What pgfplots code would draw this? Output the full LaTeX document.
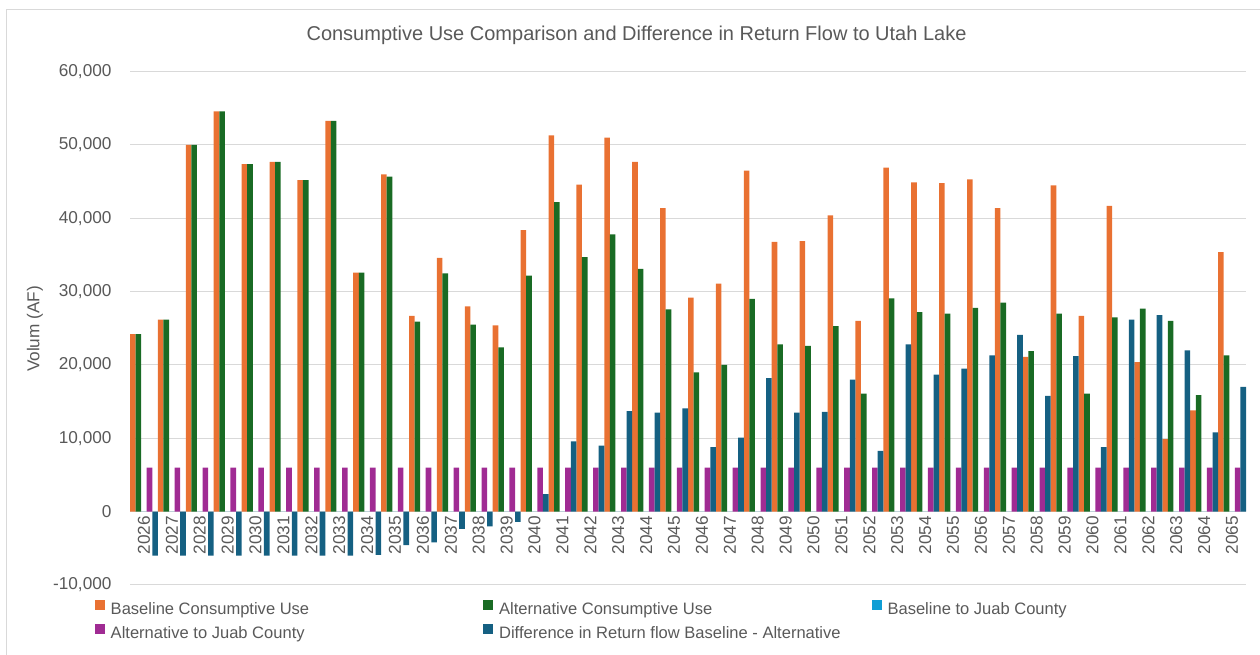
\documentclass[border=0pt]{standalone}
\usepackage{pgfplots}
\pgfplotsset{compat=1.18}
\usepackage{pgfplotstable}
\usepackage{fontspec}
\setmainfont{Liberation Sans}
\definecolor{cBase}{HTML}{E97132}
\definecolor{cAlt}{HTML}{196B24}
\definecolor{cBJ}{HTML}{0F9ED5}
\definecolor{cAJ}{HTML}{A02B93}
\definecolor{cDiff}{HTML}{156082}
\definecolor{txt}{HTML}{595959}
\definecolor{gridc}{HTML}{D9D9D9}

\pgfplotstableread{
x base alt bj aj diff
0 24200 24200 0 6000 -6000
1 26200 26200 0 6000 -6000
2 50000 50000 0 6000 -6000
3 54600 54600 0 6000 -6000
4 47400 47400 0 6000 -6000
5 47700 47700 0 6000 -6000
6 45200 45200 0 6000 -6000
7 53300 53300 0 6000 -6000
8 32600 32600 0 6000 -5900
9 46000 45700 0 6000 -4550
10 26700 25900 0 6000 -4200
11 34600 32500 0 6000 -2350
12 28000 25500 0 6000 -2000
13 25400 22400 0 6000 -1400
14 38400 32200 0 6000 2400
15 51300 42200 0 6000 9600
16 44600 34700 0 6000 9000
17 51000 37800 0 6000 13700
18 47700 33100 0 6000 13500
19 41400 27600 0 6000 14100
20 29200 19000 0 6000 8800
21 31100 20000 0 6000 10100
22 46500 29000 0 6000 18200
23 36800 22800 0 6000 13500
24 36900 22600 0 6000 13600
25 40400 25300 0 6000 18000
26 26000 16100 0 6000 8300
27 46900 29100 0 6000 22800
28 44900 27200 0 6000 18700
29 44800 27000 0 6000 19500
30 45300 27800 0 6000 21300
31 41400 28500 0 6000 24100
32 21100 21900 0 6000 15800
33 44500 27000 0 6000 21200
34 26700 16100 0 6000 8800
35 41700 26500 0 6000 26200
36 20400 27700 0 6000 26800
37 9900 26000 0 6000 22000
38 13800 15900 0 6000 10800
39 35400 21300 0 6000 17000
}\data

\newcommand{\tickfont}{\fontsize{12.9}{15}\selectfont}
\newcommand{\legfont}{\fontsize{12.4}{14}\selectfont}

\begin{document}
\begin{tikzpicture}
\path[use as bounding box] (0,0) rectangle (945pt,491.25pt);
\draw[gridc, line width=0.75pt] (5pt,-10pt) -- (5pt,484.3pt) -- (960pt,484.3pt);
\node[font=\fontsize{15}{18}\selectfont, text=txt] at (477.4pt,464.5pt)
  {Consumptive Use Comparison and Difference in Return Flow to Utah Lake};
\node[rotate=90, font=\tickfont, text=txt] at (26.25pt,244.5pt) {Volum (AF)};
\begin{axis}[
  at={(97.5pt,52.5pt)}, anchor=south west,
  scale only axis, width=837pt, height=385pt,
  xmin=-0.5, xmax=39.5, ymin=-10000, ymax=60000,
  ytick={-10000,0,10000,20000,30000,40000,50000,60000},
  xtick=\empty,
  ymajorgrids, grid style={gridc, line width=0.75pt},
  axis line style={draw=none},
  major tick length=0pt,
  clip=false,
  /pgf/number format/1000 sep={,},
  /pgf/number format/assume math mode=true,
  scaled y ticks=false,
  yticklabel style={font=\tickfont, text=txt, inner sep=0pt, xshift=-13.7pt},
  legend columns=3,
  legend cell align=left,
  legend image code/.code={\fill[#1,/tikz/.cd,draw=none] (0pt,0.5pt) rectangle (7.5pt,8pt);},
  legend style={at={(-0.03136,-0.0292)}, anchor=north west, draw=none, fill=none,
    inner sep=0pt, outer sep=0pt, row sep=4pt,
    nodes={inner sep=0pt, text height=9pt, text depth=2.5pt, font=\legfont, text=txt},
    /tikz/every odd column/.append style={column sep=4.3pt}},
]
\addplot[ybar, bar width=0.2, bar shift=-0.4, fill=cBase, draw=none] table[x=x,y=base]{\data};
\addlegendentry{\makebox[279.5pt][l]{Baseline Consumptive Use}}
\addplot[ybar, bar width=0.2, bar shift=-0.2, fill=cAlt, draw=none] table[x=x,y=alt]{\data};
\addlegendentry{\makebox[279.5pt][l]{Alternative Consumptive Use}}
\addplot[ybar, bar width=0.2, bar shift=0, fill=cBJ, draw=none] table[x=x,y=bj]{\data};
\addlegendentry{Baseline to Juab County}
\addplot[ybar, bar width=0.2, bar shift=0.2, fill=cAJ, draw=none] table[x=x,y=aj]{\data};
\addlegendentry{\makebox[279.5pt][l]{Alternative to Juab County}}
\addplot[ybar, bar width=0.2, bar shift=0.4, fill=cDiff, draw=none] table[x=x,y=diff]{\data};
\addlegendentry{\makebox[279.5pt][l]{Difference in Return flow Baseline - Alternative}}
\pgfplotsinvokeforeach{0,...,39}{
  \node[rotate=90, anchor=east, inner xsep=3.2pt, inner ysep=0pt, font=\tickfont, text=txt]
    at (axis cs:#1,0) {\the\numexpr 2026+#1\relax};
}
\end{axis}
\end{tikzpicture}
\end{document}
